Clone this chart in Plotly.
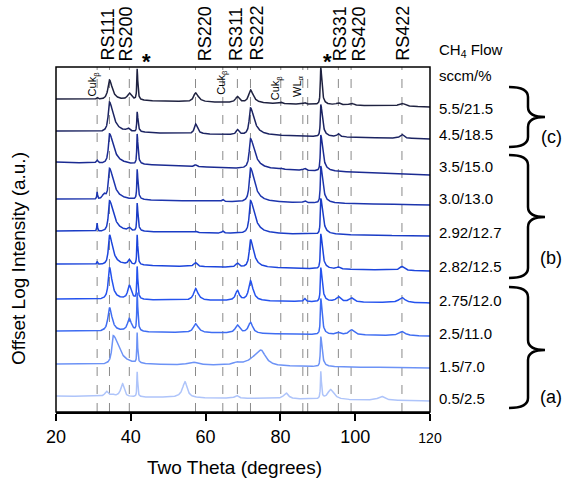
import numpy as np
import plotly.graph_objects as go

# ---------------- data ----------------
flow_labels = ["5.5/21.5", "4.5/18.5", "3.5/15.0", "3.0/13.0", "2.92/12.7",
               "2.82/12.5", "2.75/12.0", "2.5/11.0", "1.5/7.0", "0.5/2.5"]
colors = ["#1f2240", "#1c2462", "#1b2b92", "#1d35ad", "#1a3cc6",
          "#1c45dc", "#2553ee", "#3f6df2", "#6d93f6", "#aec4fa"]
# offset background level (left end, right end) in offset-log units
base_left = [313, 281, 250, 213, 181, 148, 113, 81, 48, 16]
base_right = [305, 273, 237, 207, 176, 141, 109, 76, 44, 11]
label_y = [304, 278, 246, 214, 180, 146, 112, 79, 46, 14]

# peaks: (two-theta, height, left half-width, right half-width)
peaks = [
    [(31.0, 2, .3, .3), (34.3, 20, .5, .9), (39.6, 7, .6, .7), (41.7, 31, .12, .2),
     (57.3, 9, .6, .9), (68.5, 6, .6, .6), (72.0, 13, .6, .9), (80.1, 1.5, .4, .4),
     (86.5, 1.5, .4, .4), (90.8, 37, .15, .35), (95.5, 2, .6, .6), (99.0, 2, .6, .6),
     (112.5, 3, 1.0, 1.0)],
    [(34.3, 30, .4, 1.2), (39.3, 3, .5, .5), (41.7, 20, .12, .25), (57.3, 10, .4, .6),
     (68.5, 5, .4, .5), (72.0, 27, .4, 1.2), (90.8, 32, .15, .5), (95.5, 3, .4, .4),
     (112.5, 4, .6, .6)],
    [(31.0, 3, .3, .3), (34.3, 30, .35, 1.3), (41.7, 30, .12, .25), (57.3, 2, .4, .4),
     (72.0, 30, .4, 1.3), (80.1, 1, .4, .4), (86.5, 2, .4, .4), (90.8, 36, .15, .6)],
    [(31.0, 7, .12, .12), (32.8, 5, .5, .5), (34.3, 31, .35, 1.3), (41.7, 30, .12, .25),
     (64.6, 2, .3, .3), (72.0, 34, .4, 1.3), (86.5, 2, .4, .4), (90.8, 37, .15, .6)],
    [(31.0, 8, .12, .12), (34.3, 31, .35, 1.3), (39.6, 3, .4, .4), (41.7, 28, .12, .25),
     (57.3, 1.5, .4, .4), (64.6, 2, .3, .3), (72.0, 33, .4, 1.3), (90.8, 36, .15, .6)],
    [(31.0, 3, .15, .15), (34.3, 30, .35, 1.0), (39.6, 5, .4, .4), (41.7, 30, .12, .2),
     (57.3, 4, .5, .5), (68.5, 4, .5, .5), (72.0, 28, .4, 1.0), (90.8, 35, .15, .5),
     (95.5, 2, .5, .5), (112.5, 4, .7, .7)],
    [(34.3, 32, .4, .8), (39.6, 14, .5, .6), (41.7, 32, .12, .2), (57.3, 12, .6, .8),
     (68.5, 10, .6, .6), (72.0, 20, .6, .8), (86.5, 3, .3, .3), (90.8, 34, .15, .45),
     (95.5, 5, .7, .7), (99.0, 4, .7, .7), (112.5, 5, 1.0, 1.0)],
    [(34.3, 24, .5, .8), (39.6, 13, .6, .7), (41.7, 38, .12, .2), (57.3, 9, .7, .9),
     (68.5, 8, .7, .7), (72.0, 11, .7, .7), (90.8, 36, .15, .4), (95.5, 2, .6, .6),
     (99.0, 5, .8, .8), (112.5, 4, 1.0, 1.0)],
    [(35.3, 29, .45, 1.8), (41.7, 30, .1, .15), (56.5, 3, 1.5, 1.5), (68.3, 2, 1.0, 1.0),
     (74.8, 16, 2.5, 1.5), (90.8, 30, .15, .4)],
    [(33.5, 5, .5, .5), (35.0, 2, .5, .5), (37.8, 13, .6, .5), (41.7, 25, .1, .15),
     (54.5, 16, .8, .7), (68.3, 3, .6, .6), (81.5, 6, .8, .8), (90.8, 27, .12, .2),
     (93.4, 10, .9, 1.1), (107.0, 4, 1.0, 1.0)],
]

# reference line positions (two-theta)
ref_lines = [31.0, 34.3, 39.6, 57.3, 64.6, 68.5, 72.0, 80.1, 86.0, 87.3, 95.5, 98.9, 112.5]
top_labels = ["RS111", "RS200", "*", "RS220", "RS311", "RS222", "*", "RS331", "RS420", "RS422"]
top_label_x = [33.8, 38.7, 44.3, 59.8, 68.1, 73.5, 92.7, 95.9, 101.0, 112.6]
x_ticks = [20, 40, 60, 80, 100, 120]

# ---------------- build ----------------
tt = np.linspace(20, 120, 2001)
fig = go.Figure()

for i in range(len(flow_labels)):
    y = base_left[i] + (base_right[i] - base_left[i]) * (tt - 20) / 100.0
    for c, h, wl, wr in peaks[i]:
        w = np.where(tt < c, wl, wr)
        y = y + h / (1 + ((tt - c) / w) ** 2)
    fig.add_trace(go.Scatter(x=tt, y=y, mode="lines",
                             line=dict(color=colors[i], width=1.5),
                             showlegend=False, hoverinfo="skip"))

shapes = []
for xl in ref_lines:
    shapes.append(dict(type="line", xref="x", yref="paper", x0=xl, x1=xl, y0=0, y1=1,
                       line=dict(color="#8a8a8a", width=1, dash="dash"), layer="below"))

# plot box
shapes.append(dict(type="rect", xref="paper", yref="paper", x0=0, x1=1, y0=0, y1=1,
                   line=dict(color="black", width=1.5)))

L, R, T, B = 56, 430, 67, 412
W, H = R - L, B - T


def px(xp):
    return (xp - L) / W


def py(yp):
    return (B - yp) / H


def brace(x0, xm, x1, ytop, ymid, ybot):
    r = 10
    a = px(x0); m = px(xm); t = px(x1)
    yt = py(ytop); yc = py(ymid); yb = py(ybot)
    rr = r / H
    return (f"M {a},{yt} Q {m},{yt} {m},{yt-rr} L {m},{yc+rr} Q {m},{yc} {t},{yc} "
            f"Q {m},{yc} {m},{yc-rr} L {m},{yb+rr} Q {m},{yb} {a},{yb}")


for (ytop, ymid, ybot) in [(87, 117, 147), (155, 217, 278), (287, 350, 408)]:
    shapes.append(dict(type="path", xref="paper", yref="paper",
                       path=brace(509, 528, 545, ytop, ymid, ybot),
                       line=dict(color="black", width=2.5)))

annotations = []
for lab, xl in zip(top_labels, top_label_x):
    if lab == "*":
        annotations.append(dict(x=xl, y=1, xref="x", yref="paper", text="<b>*</b>",
                                showarrow=False, xanchor="center", yanchor="bottom",
                                yshift=-9, font=dict(size=22, color="black")))
    else:
        annotations.append(dict(x=xl, y=1, xref="x", yref="paper", text=lab,
                                textangle=-90, showarrow=False, xanchor="center",
                                yanchor="bottom", yshift=4,
                                font=dict(size=18, color="black")))

inner = [("Cuk<sub>β</sub>", 30.0, 84), ("Cuk<sub>β</sub>", 64.3, 82),
         ("Cuk<sub>β</sub>", 78.9, 88), ("WL<sub>α</sub>", 84.7, 86)]
for txt, xl, ypx in inner:
    annotations.append(dict(x=xl, y=py(ypx), xref="x", yref="paper", text=txt,
                            textangle=-90, showarrow=False, xanchor="center",
                            yanchor="middle", font=dict(size=11, color="black")))

for lab, yb in zip(flow_labels, label_y):
    annotations.append(dict(x=px(437), y=yb, xref="paper", yref="y", text=lab,
                            xanchor="left", yanchor="middle", showarrow=False,
                            font=dict(size=15, color="black")))

annotations.append(dict(x=px(437), y=py(51), xref="paper", yref="paper",
                        text="CH<sub>4</sub> Flow", xanchor="left", yanchor="middle",
                        showarrow=False, font=dict(size=15, color="black")))
annotations.append(dict(x=px(437), y=py(75), xref="paper", yref="paper",
                        text="sccm/%", xanchor="left", yanchor="middle", showarrow=False,
                        font=dict(size=15, color="black")))
for txt, ypx in [("(c)", 137), ("(b)", 258), ("(a)", 397)]:
    annotations.append(dict(x=px(551), y=py(ypx), xref="paper", yref="paper",
                            text=txt, showarrow=False, xanchor="center", yanchor="middle",
                            font=dict(size=18, color="black")))

annotations.append(dict(x=px(18), y=py(259), xref="paper", yref="paper",
                        text="Offset Log Intensity (a.u.)", textangle=-90,
                        xanchor="center", yanchor="middle",
                        showarrow=False, font=dict(size=19, color="black")))
annotations.append(dict(x=px(234), y=py(467), xref="paper", yref="paper",
                        text="Two Theta (degrees)", showarrow=False,
                        xanchor="center", yanchor="middle",
                        font=dict(size=19, color="black")))

tick_text = [str(v) for v in x_ticks]
tick_text[-1] = "<span style='font-size:14px'>120</span>"

fig.update_layout(
    width=566, height=480,
    margin=dict(l=L, r=566 - R, t=T, b=480 - B),
    paper_bgcolor="white", plot_bgcolor="white",
    font=dict(family="Arial, Liberation Sans, sans-serif", color="black"),
    shapes=shapes, annotations=annotations,
    xaxis=dict(range=[20, 120], tickvals=x_ticks, ticktext=tick_text,
               ticks="outside", ticklen=7, tickwidth=1.5, tickcolor="black",
               showline=True, linecolor="black", linewidth=2, showgrid=False,
               zeroline=False, tickfont=dict(size=18, color="black")),
    yaxis=dict(range=[0, 345], showticklabels=False, ticks="", showgrid=False,
               zeroline=False, showline=False),
)

fig.write_html("out.html")
